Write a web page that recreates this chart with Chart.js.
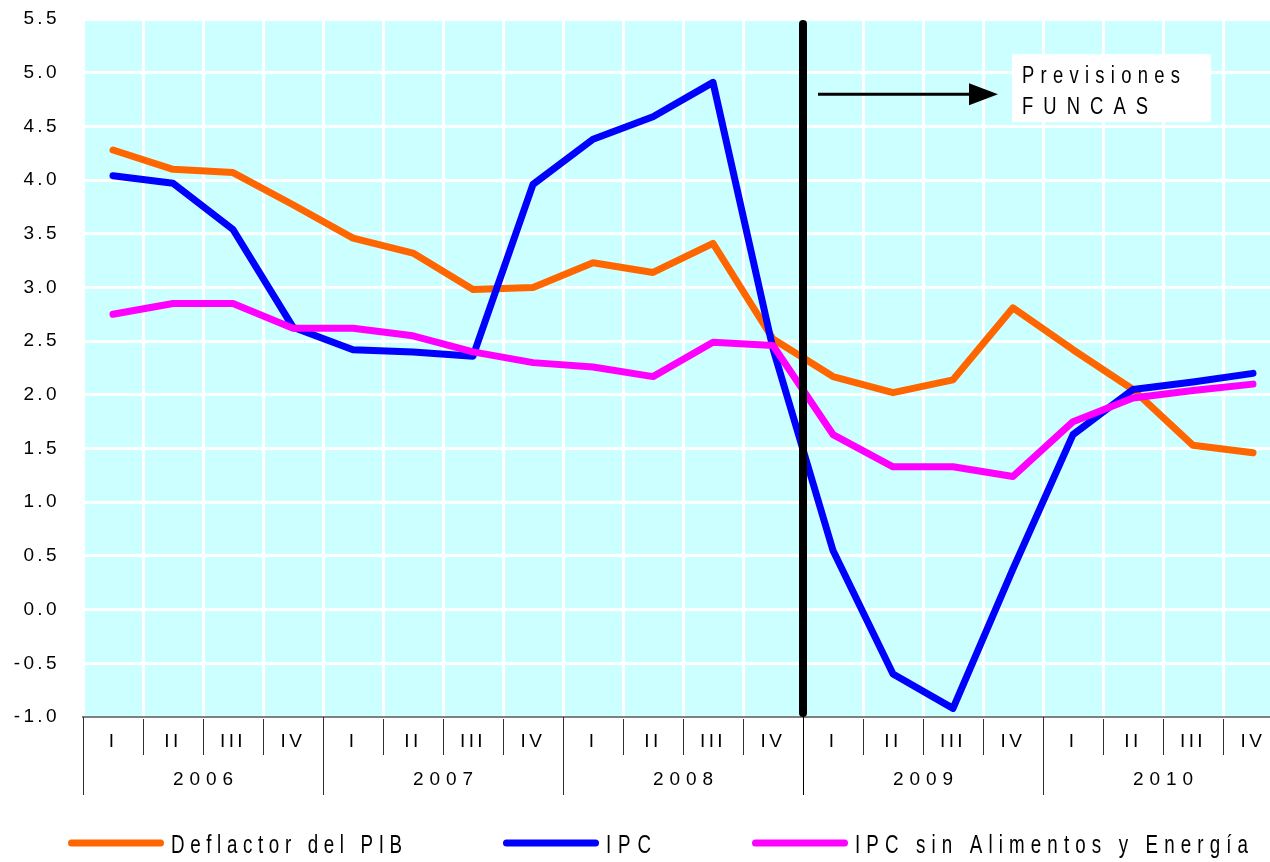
<!DOCTYPE html>
<html><head><meta charset="utf-8">
<script src="https://cdn.jsdelivr.net/npm/chart.js@4/dist/chart.umd.min.js"></script>
<style>html,body{margin:0;padding:0;background:#fff;overflow:hidden;}#wrap{width:1300px;height:862px;}</style>
</head><body><div id="wrap"><canvas id="c" width="1300" height="862"></canvas></div>
<script>
// ---- data ----
const quarterLabels = ['I','II','III','IV','I','II','III','IV','I','II','III','IV','I','II','III','IV','I','II','III','IV'];
const yearLabels = ['2006','2007','2008','2009','2010'];
const deflactorPIB = [4.28,4.10,4.07,3.77,3.46,3.32,2.98,3.00,3.23,3.14,3.41,2.52,2.17,2.02,2.14,2.81,2.42,2.05,1.53,1.46];
const ipc          = [4.04,3.97,3.54,2.63,2.42,2.40,2.36,3.96,4.38,4.59,4.91,2.43,0.55,-0.60,-0.92,0.38,1.63,2.05,2.12,2.20];
const ipcSubyacente= [2.75,2.85,2.85,2.62,2.62,2.55,2.40,2.30,2.26,2.17,2.49,2.46,1.63,1.33,1.33,1.24,1.75,1.97,2.04,2.10];
const seriesNames = ['Deflactor del PIB','IPC','IPC sin Alimentos y Energía'];
const seriesColors = ['#FF6600','#0000FF','#FF00FF'];
const yMin = -1.0, yMax = 5.5, yStep = 0.5;
const forecastStartIndex = 12;
const annotationLines = ['Previsiones','FUNCAS'];

const TICK_FONT = '"Liberation Sans", Arial, sans-serif';
const TICK_SPACING = '3.4px';

// draws text char by char, horizontally compressed by sx, spread to a target width
function spacedText(ctx, text, x, y, targetWidth, align, sx){
  sx = sx || 1;
  const chars = Array.from(text);
  const widths = chars.map(c => ctx.measureText(c).width * sx);
  const natural = widths.reduce((a,b)=>a+b,0);
  let sp = chars.length > 1 ? (targetWidth - natural)/(chars.length-1) : 0;
  if (sp < 0) sp = 0;
  const total = natural + sp*(chars.length-1);
  let cx = align === 'center' ? x - total/2 : x;
  ctx.textAlign = 'left';
  chars.forEach((c,i)=>{
    ctx.save(); ctx.translate(cx, y); ctx.scale(sx, 1); ctx.fillText(c, 0, 0); ctx.restore();
    cx += widths[i] + sp;
  });
  return total;
}

const bgPlugin = {
  id: 'bgPlugin',
  beforeLayout(chart){ chart.ctx.letterSpacing = TICK_SPACING; },
  beforeDraw(chart){
    const {ctx, chartArea:a} = chart;
    ctx.save();
    ctx.fillStyle = '#CCFFFF';
    ctx.fillRect(a.left, a.top, a.right-a.left, a.bottom-a.top);
    ctx.restore();
    ctx.letterSpacing = TICK_SPACING;
  }
};

const extrasPlugin = {
  id: 'extrasPlugin',
  afterDraw(chart){
    const {ctx, chartArea:a} = chart;
    const xs = chart.scales.x, ys = chart.scales.y;
    ctx.save();
    ctx.letterSpacing = '0px';
    const half = (xs.getPixelForValue(1) - xs.getPixelForValue(0))/2;
    // year separators and labels
    ctx.strokeStyle = '#303030';
    ctx.lineWidth = 1;
    const axisTop = xs.top, axisBottom = xs.bottom;
    for (let k = 0; k <= yearLabels.length; k++){
      const idx = k*4;
      const bx = idx < quarterLabels.length ? xs.getPixelForValue(idx) - half : xs.getPixelForValue(quarterLabels.length-1) + half;
      const px = Math.round(bx) + 0.5;
      ctx.beginPath(); ctx.moveTo(px, axisTop); ctx.lineTo(px, axisBottom); ctx.stroke();
    }
    ctx.fillStyle = '#000';
    ctx.font = '19px ' + TICK_FONT;
    ctx.textBaseline = 'middle';
    yearLabels.forEach((yl,k)=>{
      const cx = (xs.getPixelForValue(k*4) + xs.getPixelForValue(k*4+3))/2;
      spacedText(ctx, yl, cx, axisTop + 63, 60, 'center', 1);
    });
    // forecast vertical line
    const fx = (xs.getPixelForValue(forecastStartIndex-1) + xs.getPixelForValue(forecastStartIndex))/2;
    ctx.strokeStyle = '#000';
    ctx.lineWidth = 8;
    ctx.lineCap = 'round';
    ctx.beginPath(); ctx.moveTo(fx, a.top + 5); ctx.lineTo(fx, a.bottom - 4); ctx.stroke();
    ctx.beginPath(); ctx.lineWidth = 1; ctx.lineCap = 'butt';
    ctx.moveTo(Math.round(fx)+0.5, a.bottom); ctx.lineTo(Math.round(fx)+0.5, axisBottom); ctx.stroke();
    // arrow
    const ay = ys.getPixelForValue(4.8);
    const ax0 = fx + 15, tip = fx + 195;
    ctx.lineWidth = 3;
    ctx.beginPath(); ctx.moveTo(ax0, ay); ctx.lineTo(tip - 20, ay); ctx.stroke();
    ctx.fillStyle = '#000';
    ctx.beginPath(); ctx.moveTo(tip, ay); ctx.lineTo(tip - 29, ay - 11); ctx.lineTo(tip - 29, ay + 11); ctx.closePath(); ctx.fill();
    // text box
    const bx = fx + 209, by = ay - 40;
    ctx.fillStyle = '#fff';
    ctx.fillRect(bx, by, 199, 68);
    ctx.fillStyle = '#000';
    ctx.font = '23px ' + TICK_FONT;
    ctx.textBaseline = 'alphabetic';
    spacedText(ctx, annotationLines[0], bx + 10, by + 29, 158, 'left', 0.8);
    spacedText(ctx, annotationLines[1], bx + 10, by + 60, 126, 'left', 0.8);
    // legend
    const legendTargets = [231, 45, 393];
    let lx = 68;
    const ly = 843;
    ctx.font = '25px ' + TICK_FONT;
    ctx.textBaseline = 'middle';
    chart.data.datasets.forEach((ds, i)=>{
      ctx.strokeStyle = ds.borderColor;
      ctx.lineWidth = 7;
      ctx.lineCap = 'round';
      ctx.beginPath(); ctx.moveTo(lx + 3.5, ly); ctx.lineTo(lx + 92.5, ly); ctx.stroke();
      ctx.fillStyle = '#000';
      const w = spacedText(ctx, ds.label, lx + 103, ly + 3, legendTargets[i], 'left', 0.75);
      lx = lx + 103 + w + 101;
    });
    ctx.restore();
  }
};

const mkDs = (label, data, color, order) => ({
  label, data, borderColor: color, backgroundColor: color, borderWidth: 7,
  pointRadius: 0, pointHoverRadius: 0, tension: 0, fill: false,
  borderJoinStyle: 'round', borderCapStyle: 'round', order
});

new Chart(document.getElementById('c'), {
  type: 'line',
  data: {
    labels: quarterLabels,
    datasets: [
      mkDs(seriesNames[0], deflactorPIB, seriesColors[0], 2),
      mkDs(seriesNames[1], ipc, seriesColors[1], 1),
      mkDs(seriesNames[2], ipcSubyacente, seriesColors[2], 0)
    ]
  },
  options: {
    responsive: false,
    animation: false,
    events: [],
    layout: { padding: { left: 0, right: 17, top: 19, bottom: 67 } },
    plugins: { legend: { display: false }, tooltip: { enabled: false }, title: { display: false } },
    scales: {
      x: {
        offset: true,
        grid: { offset: true, color: '#FFFFFF', lineWidth: 3, tickColor: '#303030', tickWidth: 1, tickLength: 38, drawTicks: true },
        border: { display: true, color: '#808080', width: 2 },
        ticks: { autoSkip: false, maxRotation: 0, color: '#000', font: { size: 19, family: TICK_FONT }, padding: -25 },
        afterFit(s){ s.height = 78; }
      },
      y: {
        min: yMin, max: yMax,
        grid: { color: '#FFFFFF', lineWidth: 3, drawTicks: false },
        border: { display: false },
        ticks: { stepSize: yStep, color: '#000', font: { size: 19, family: TICK_FONT }, padding: 23,
                 callback: v => Number(v).toFixed(1) },
        afterFit(s){ s.width = 83; s.paddingTop = 0; s.paddingBottom = 0; }
      }
    }
  },
  plugins: [bgPlugin, extrasPlugin]
});
</script></body></html>
